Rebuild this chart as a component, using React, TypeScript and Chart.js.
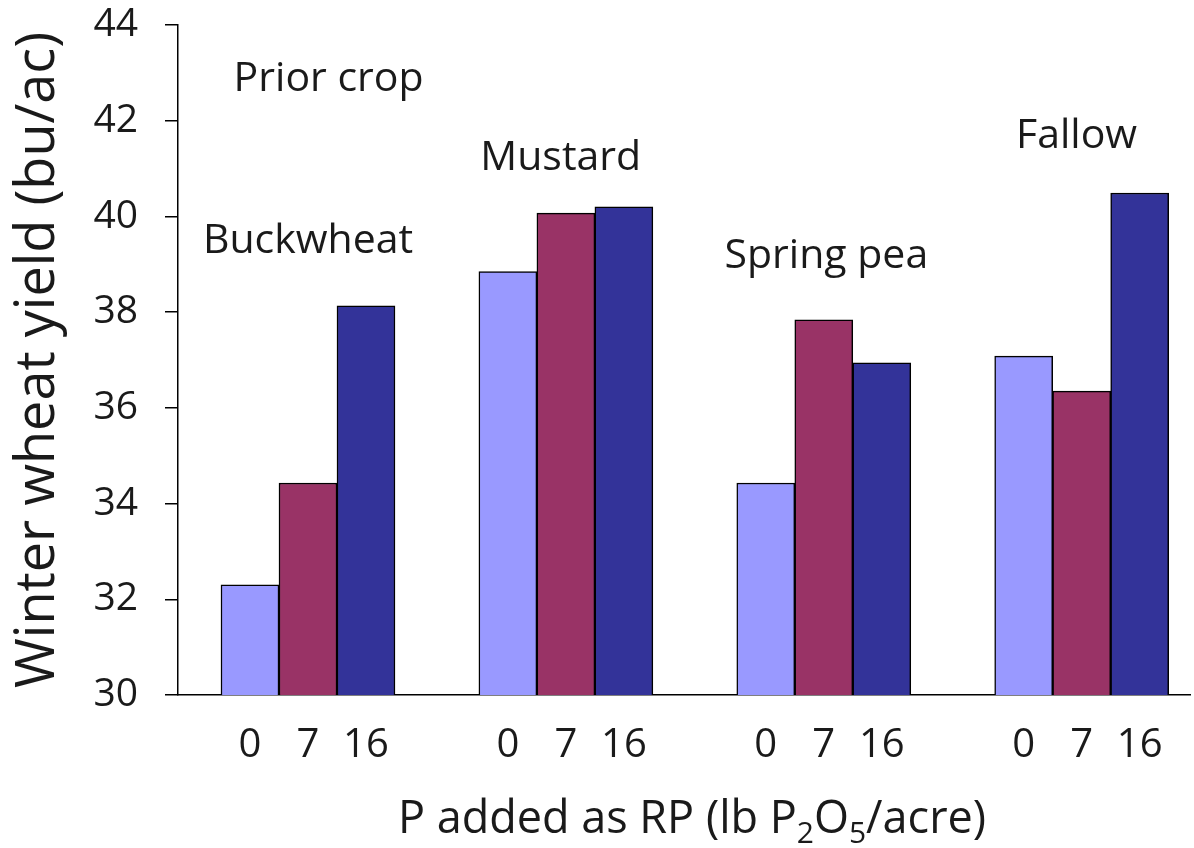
import { useEffect, useRef } from "react";
import { Chart, registerables } from "chart.js";

Chart.register(...registerables);

// Winter wheat yield by prior crop and rock phosphate rate
const priorCrops = ["Buckwheat", "Mustard", "Spring pea", "Fallow"];
const rateLabels = ["0", "7", "16"];
const yieldRate0 = [32.3, 38.85, 34.43, 37.08];
const yieldRate7 = [34.43, 40.07, 37.84, 36.35];
const yieldRate16 = [38.13, 40.2, 36.94, 40.49];
const yTickValues = [30, 32, 34, 36, 38, 40, 42, 44];

// In-plot labels, in data units (x = crop index, y = text baseline in bu/ac)
const noteTexts = ["Prior crop", ...priorCrops];
const noteX = [0.08, 0, 0.98, 2.01, 2.98];
const noteY = [42.62, 39.24, 40.97, 38.92, 41.43];

const seriesColors = ["#9999FF", "#993366", "#333399"];
const FONT = "'Open Sans', sans-serif";
const INK = "#1a1a1a";

const textPlugin = {
  id: "textLayer",
  afterDraw(chart: any) {
    const { ctx, chartArea, scales } = chart;
    const xs = scales.x;
    const ys = scales.y;
    ctx.save();
    ctx.fillStyle = INK;

    // crop names
    ctx.font = `41px ${FONT}`;
    ctx.textAlign = "center";
    ctx.textBaseline = "alphabetic";
    noteTexts.forEach((t, i) => {
      ctx.fillText(t, xs.getPixelForValue(noteX[i]), ys.getPixelForValue(noteY[i]));
    });

    // rate labels under each bar
    ctx.font = `40px ${FONT}`;
    chart.data.datasets.forEach((_: any, k: number) => {
      const meta = chart.getDatasetMeta(k);
      meta.data.forEach((bar: any) => {
        ctx.fillText(rateLabels[k], bar.x, chartArea.bottom + 62);
      });
    });

    // x-axis title with subscripts
    const parts: [string, boolean][] = [
      ["P added as RP (lb P", false],
      ["2", true],
      ["O", false],
      ["5", true],
      ["/acre)", false],
    ];
    const mainFont = `45px ${FONT}`;
    const subFont = `30px ${FONT}`;
    let total = 0;
    const widths = parts.map(([s, sub]) => {
      ctx.font = sub ? subFont : mainFont;
      const w = ctx.measureText(s).width;
      total += w;
      return w;
    });
    let x = (chartArea.left + chartArea.right) / 2 + 8 - total / 2;
    const baseY = chartArea.bottom + 138;
    ctx.textAlign = "left";
    parts.forEach(([s, sub], i) => {
      ctx.font = sub ? subFont : mainFont;
      ctx.fillText(s, x, sub ? baseY + 10 : baseY);
      x += widths[i];
    });

    // y-axis title
    ctx.translate(54, (chartArea.top + chartArea.bottom) / 2);
    ctx.rotate(-Math.PI / 2);
    ctx.font = `54px ${FONT}`;
    ctx.textAlign = "center";
    ctx.fillText("Winter wheat yield (bu/ac)", 0, 0);
    ctx.restore();
  },
};

export default function App() {
  const canvasRef = useRef<HTMLCanvasElement | null>(null);

  useEffect(() => {
    if (!canvasRef.current) return;
    const datasets = [yieldRate0, yieldRate7, yieldRate16].map((vals, k) => ({
      label: rateLabels[k],
      data: vals.map((v, i) => ({ x: i, y: v })),
      backgroundColor: seriesColors[k],
      borderColor: "#000",
      borderWidth: 1.5,
      barThickness: 58,
    }));

    const chart = new Chart(canvasRef.current, {
      type: "bar",
      data: { datasets },
      plugins: [textPlugin],
      options: {
        animation: false,
        responsive: false,
        layout: { padding: { top: 0, right: 4, left: 0, bottom: 0 } },
        plugins: { legend: { display: false }, tooltip: { enabled: false } },
        scales: {
          x: {
            type: "linear",
            offset: false,
            min: -0.504,
            max: 3.42,
            grid: { display: false, offset: false },
            ticks: { display: false },
            border: { display: true, color: "#000", width: 1.5 },
            afterFit: (s: any) => {
              s.height = 153;
              s.paddingLeft = 0;
              s.paddingRight = 0;
            },
          },
          y: {
            type: "linear",
            min: yTickValues[0],
            max: yTickValues[yTickValues.length - 1],
            afterBuildTicks: (s: any) => {
              s.ticks = yTickValues.map((v) => ({ value: v }));
            },
            grid: {
              drawOnChartArea: false,
              drawTicks: true,
              tickLength: 13,
              color: "#000",
              lineWidth: 1.5,
            },
            border: { display: true, color: "#000", width: 1.5 },
            ticks: {
              padding: 27,
              color: INK,
              font: { family: FONT, size: 39 },
            },
            afterFit: (s: any) => {
              s.width = 178;
              s.paddingTop = 25;
              s.paddingBottom = 0;
            },
          },
        },
      },
    });
    return () => chart.destroy();
  }, []);

  return (
    <div style={{ position: "fixed", left: 0, top: 0, width: 1194, height: 848, background: "#fff" }}>
      <canvas ref={canvasRef} width={1194} height={848} />
    </div>
  );
}
